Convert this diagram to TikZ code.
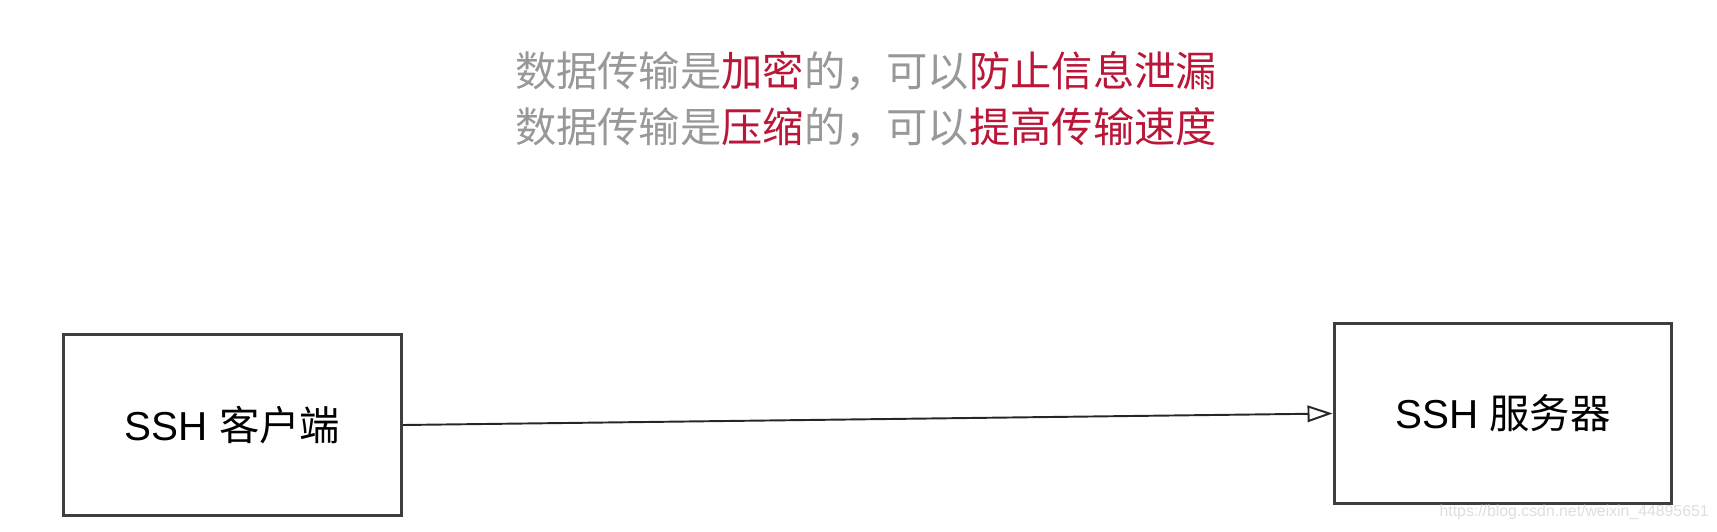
\documentclass[tikz,border=0pt]{standalone}
\usepackage{fontspec}
\setmainfont{Liberation Sans}
\newfontfamily\cjk{Noto Sans CJK SC}
\usetikzlibrary{arrows.meta}

\definecolor{notegray}{RGB}{152,152,152}
\definecolor{notered}{RGB}{186,22,56}
\definecolor{framegray}{RGB}{62,62,62}
\newcommand{\hot}[1]{\textcolor{notered}{#1}}

\begin{document}
\begin{tikzpicture}[x=0.02cm, y=-0.02cm,
    block/.style={rectangle, draw=framegray, line width=1.7pt, minimum width=6.76cm,
                  minimum height=3.62cm, inner sep=0pt, font=\fontsize{23pt}{27pt}\selectfont},
    arrow/.style={-{Triangle[open, length=0.5cm, width=0.33cm]}, line width=1.1pt, draw=black!85},
    note/.style={font=\cjk\fontsize{23.5pt}{28pt}\selectfont, text=notegray, inner sep=0pt}
]
    \useasboundingbox (0, 0) rectangle (1717, 531);

    % Notes on top
    \node[note] (line1) at (866, 71) {数据传输是\hot{加密}的，可以\hot{防止信息泄漏}};
    \node[note] (line2) at (866, 127) {数据传输是\hot{压缩}的，可以\hot{提高传输速度}};

    % Client
    \node[block] (client) at (232.5, 425) {SSH {\cjk 客户端}};

    % Server
    \node[block] (server) at (1503, 413.5) {SSH {\cjk 服务器}};

    % Client to Server
    \draw[arrow] (client.east) -- (server.west);

    % Watermark
    \node[font=\fontsize{9pt}{10pt}\selectfont, text=black!13, anchor=south east, inner sep=0pt]
        (mark) at (1709, 520) {https://blog.csdn.net/weixin\_44895651};

\end{tikzpicture}
\end{document}
